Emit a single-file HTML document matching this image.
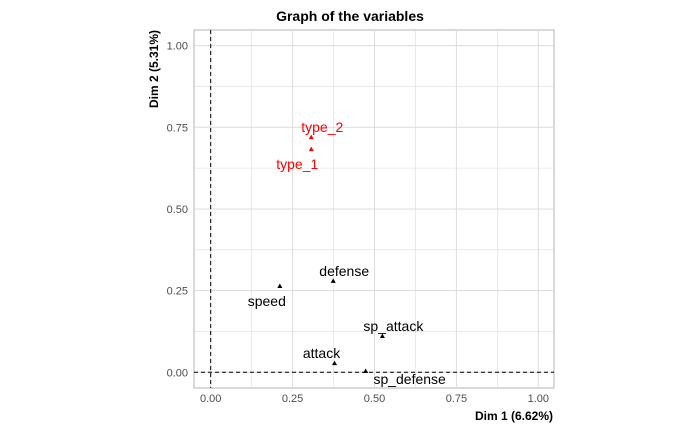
<!DOCTYPE html>
<html><head><meta charset="utf-8"><style>body{margin:0;background:#fff}svg{display:block;font-family:"Liberation Sans",sans-serif}</style></head>
<body>
<svg id="c" width="700" height="432">
<rect x="194" y="30" width="360" height="358" fill="#fff" stroke="#b3b3b3"/>
<g id="grid"></g><g id="marks"></g>
<text x="350" y="21" text-anchor="middle" font-size="14" font-weight="bold">Graph of the variables</text>
<text x="553" y="420" text-anchor="end" font-size="12" font-weight="bold">Dim 1 (6.62%)</text>
<text transform="translate(158,30) rotate(-90)" text-anchor="end" font-size="12" font-weight="bold">Dim 2 (5.31%)</text>
</svg>
<script>
const names=["type_2","type_1","speed","defense","sp_attack","attack","sp_defense"];
const dim1=[0.307,0.307,0.211,0.374,0.524,0.378,0.473];
const dim2=[0.720,0.683,0.264,0.280,0.111,0.028,0.004];
const supp=[true,true,false,false,false,false,false];
const ticks=[0,0.25,0.5,0.75,1];
const tickLabels=["0.00","0.25","0.50","0.75","1.00"];
const xs=v=>210.7+v*327.6, ys=v=>372.3-v*326.7;
const off={type_2:[11,-10],type_1:[-14,15],speed:[-13,15],defense:[11,-10],sp_attack:[11,-10],attack:[-13,-10],sp_defense:[44,8]};
const NS="http://www.w3.org/2000/svg";
function mk(p,t,a){const e=document.createElementNS(NS,t);for(const k in a)e.setAttribute(k,a[k]);p.appendChild(e);return e;}
const g=document.getElementById('grid'),m=document.getElementById('marks');
for(let i=0;i<ticks.length;i++){
 const t=ticks[i];
 [t,t+0.125].forEach((v,j)=>{if(v>1.06)return;
  const l1=mk(g,'line',{x1:xs(v),x2:xs(v),y1:30,y2:388,stroke:'#dcdcdc','stroke-width':j?0.6:1});
  
  
  const l2=mk(g,'line',{x1:194,x2:554,y1:ys(v),y2:ys(v),stroke:'#dcdcdc','stroke-width':j?0.6:1});
  
  });
 const tx=mk(g,'text',{x:xs(t),y:402,'text-anchor':'middle','font-size':11,fill:'#4d4d4d'});tx.textContent=tickLabels[i];
 
 
 const ty=mk(g,'text',{x:188,y:ys(t)+4,'text-anchor':'end','font-size':11,fill:'#4d4d4d'});ty.textContent=tickLabels[i];
 
 
}
const h=mk(g,'line',{x1:194,x2:554,y1:ys(0),y2:ys(0),stroke:'#000','stroke-dasharray':'4,3'});


const v=mk(g,'line',{x1:xs(0),x2:xs(0),y1:30,y2:388,stroke:'#000','stroke-dasharray':'4,3'});


for(let i=0;i<names.length;i++){
 const x=xs(dim1[i]),y=ys(dim2[i]),c=supp[i]?'#f00':'#000';
 const p=mk(m,'path',{d:`M${x-2.5},${y+2} L${x+2.5},${y+2} L${x},${y-2.5}Z`,fill:c});
 
 
 const o=off[names[i]];
 const t=mk(m,'text',{x:x+o[0],y:y+o[1]+5,'text-anchor':'middle','font-size':14,fill:c});t.textContent=names[i];
 
 
}
</script>
</body></html>
